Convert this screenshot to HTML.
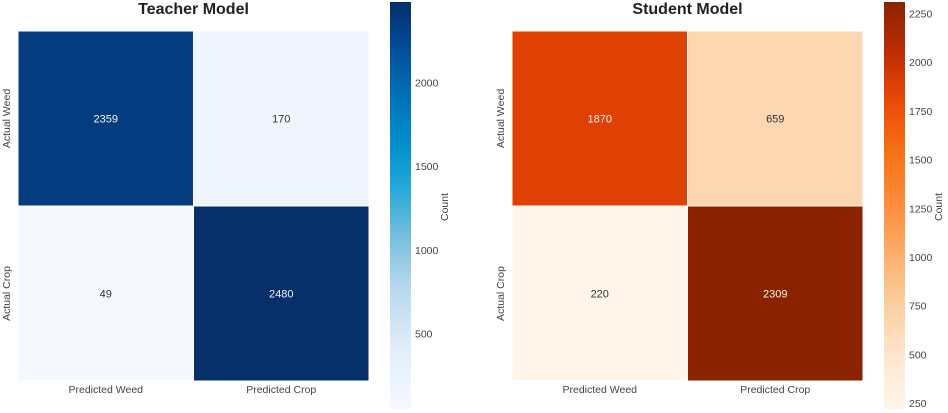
<!DOCTYPE html>
<html><head><meta charset="utf-8">
<style>
html,body{margin:0;padding:0;background:#fff;}
svg{display:block;font-family:"Liberation Sans",Arial,sans-serif;}
</style></head>
<body>
<svg id="chart" width="948" height="413" viewBox="0 0 948 413" xmlns="http://www.w3.org/2000/svg"></svg>
<script>
const rowLabels = ["Actual Weed", "Actual Crop"];
const colLabels = ["Predicted Weed", "Predicted Crop"];
const teacherValues = [[2359, 170], [49, 2480]];
const studentValues = [[1870, 659], [220, 2309]];
const teacherTicks = [500, 1000, 1500, 2000];
const studentTicks = [250, 500, 750, 1000, 1250, 1500, 1750, 2000, 2250];

const blueStops = [[0,"#f5f9ff"],[0.15,"#e0edf8"],[0.3,"#b8d8ee"],[0.42,"#78bfe0"],[0.55,"#20a8d8"],[0.65,"#0090cc"],[0.8,"#0068b0"],[0.9,"#004a94"],[1,"#062f6a"]];
const orangeStops = [[0,"#fff5eb"],[0.12,"#fee8d2"],[0.25,"#fdd0a2"],[0.38,"#fdae6b"],[0.5,"#fd8d3c"],[0.62,"#f87515"],[0.75,"#ee4a06"],[0.87,"#c02e02"],[1,"#8a2200"]];

const NS = "http://www.w3.org/2000/svg";
const svg = document.getElementById("chart");
function mk(tag, attrs, parent){
  const e = document.createElementNS(NS, tag);
  for (const k in attrs) e.setAttribute(k, attrs[k]);
  (parent||svg).appendChild(e);
  return e;
}
function hex(c){return [parseInt(c.slice(1,3),16),parseInt(c.slice(3,5),16),parseInt(c.slice(5,7),16)];}
function cmap(stops, t){
  t = Math.max(0, Math.min(1, t));
  for (let i=1;i<stops.length;i++){
    if (t <= stops[i][0]){
      const a=stops[i-1], b=stops[i];
      const f=(t-a[0])/(b[0]-a[0]);
      const ca=hex(a[1]), cb=hex(b[1]);
      return "rgb("+ca.map((v,j)=>Math.round(v+(cb[j]-v)*f)).join(",")+")";
    }
  }
  return stops[stops.length-1][1];
}

function drawPanel(cfg){
  const g = mk("g", {});
  
  
  const vals = cfg.values;
  const flat = vals.flat();
  const vmin = Math.min(...flat), vmax = Math.max(...flat);
  const cw = (cfg.x1 - cfg.x0) / colLabels.length;
  const ch = (cfg.y1 - cfg.y0) / rowLabels.length;
  // title
  const title = mk("text", {x:(cfg.x0+cfg.x1)/2, y:14, "text-anchor":"middle", "font-size":"16", "font-weight":"bold", fill:"#222"}, g);
  title.textContent = cfg.title;
  
  
  // cells
  for (let r=0;r<rowLabels.length;r++){
    for (let c=0;c<colLabels.length;c++){
      const v = vals[r][c];
      const t = (v - vmin)/(vmax - vmin);
      const rect = mk("rect", {x:cfg.x0+c*cw, y:cfg.y0+r*ch, width:cw, height:ch, fill:cmap(cfg.stops,t), stroke:"#fff", "stroke-width":"1"}, g);
      
      
      const txt = mk("text", {x:cfg.x0+(c+0.5)*cw, y:cfg.y0+(r+0.5)*ch+4, "text-anchor":"middle", "font-size":"11", fill: t>0.55 ? "#f4f4f4" : "#333"}, g);
      txt.textContent = v;
      
      
    }
  }
  // x labels
  colLabels.forEach((l,c)=>{
    const t = mk("text", {x:cfg.x0+(c+0.5)*cw, y:393, "text-anchor":"middle", "font-size":"10.5", fill:"#444"}, g);
    t.textContent = l;
    
    
  });
  // y labels
  rowLabels.forEach((l,r)=>{
    const cy = cfg.y0+(r+0.5)*ch, cx = cfg.x0-8;
    const t = mk("text", {x:cx, y:cy, "text-anchor":"middle", "font-size":"10.5", fill:"#444", transform:"rotate(-90 "+cx+" "+cy+")"}, g);
    t.textContent = l;
    
    
  });
  // colorbar
  const gid = cfg.name+"-grad";
  const defs = mk("defs", {}, g);
  const lg = mk("linearGradient", {id:gid, x1:"0", y1:"1", x2:"0", y2:"0"}, defs);
  for (let i=0;i<=40;i++){ mk("stop", {offset:(i/40), "stop-color":cmap(cfg.stops,i/40)}, lg); }
  const cb = mk("rect", {x:cfg.cbx, y:2, width:21, height:407, fill:"url(#"+gid+")"}, g);
  
  
  const cbY = v => 409 - (v - vmin)/(vmax - vmin)*407;
  cfg.ticks.forEach(tv=>{
    const t = mk("text", {x:cfg.cbx+25, y:cbY(tv)+4, "font-size":"10.5", fill:"#444"}, g);
    t.textContent = tv;
    
    
  });
  const lx = cfg.cbx+58, ly = 207;
  const cl = mk("text", {x:lx, y:ly, "text-anchor":"middle", "font-size":"10.5", fill:"#444", transform:"rotate(-90 "+lx+" "+ly+")"}, g);
  cl.textContent = "Count";
  
  
}

drawPanel({name:"teacher-panel", title:"Teacher Model", values:teacherValues, ticks:teacherTicks, stops:blueStops, x0:18, x1:369, y0:31, y1:381, cbx:390});
drawPanel({name:"student-panel", title:"Student Model", values:studentValues, ticks:studentTicks, stops:orangeStops, x0:512, x1:863, y0:31, y1:381, cbx:884});
</script>
</body></html>
